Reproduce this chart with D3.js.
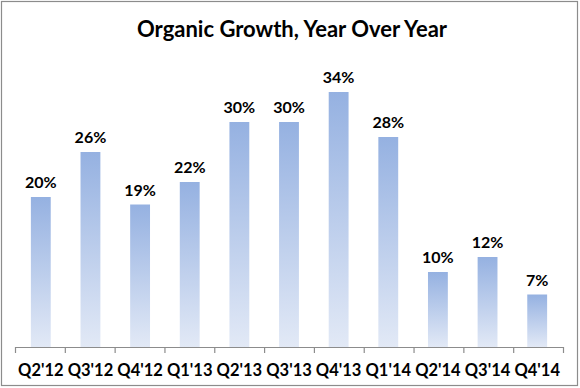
<!DOCTYPE html>
<html>
<head>
<meta charset="utf-8">
<script src="https://cdn.jsdelivr.net/npm/d3@7"></script>
<style>
  body { margin: 0; background: #fff; }
  text { font-family: Lato, "Open Sans", sans-serif; font-weight: bold; fill: #000; }
</style>
</head>
<body>
<div class="canvas"></div>
<script>
// data
const quarters = ["Q2'12", "Q3'12", "Q4'12", "Q1'13", "Q2'13", "Q3'13", "Q4'13", "Q1'14", "Q2'14", "Q3'14", "Q4'14"];
const growth = [20, 26, 19, 22, 30, 30, 34, 28, 10, 12, 7];

const width = 580, height = 388;

const svg = d3.select('.canvas')
    .append('svg')
    .attr('width', width)
    .attr('height', height);

// frame
svg.append('rect')
    .attr('x', 1.5).attr('y', 1.5)
    .attr('width', width - 4).attr('height', height - 4)
    .attr('fill', '#fff')
    .attr('stroke', '#8c8c8c')
    .attr('stroke-width', 1.2);

// gradient for bars
const grad = svg.append('defs').append('linearGradient')
    .attr('id', 'barGrad')
    .attr('x1', 0).attr('y1', 0).attr('x2', 0).attr('y2', 1);
grad.append('stop').attr('offset', '0%').attr('stop-color', '#95b1e1');
grad.append('stop').attr('offset', '100%').attr('stop-color', '#e2e9f6');

// title
svg.append('text')
    .attr('x', 292)
    .attr('y', 37)
    .attr('text-anchor', 'middle')
    .style('font-size', '22px')
    .text('Organic Growth, Year Over Year');

// scales
const x = d3.scaleBand()
    .domain(quarters)
    .range([15, 563])
    .paddingInner(0.6)
    .paddingOuter(0.32);

const y = d3.scaleLinear()
    .domain([0, 40])
    .range([347, 47]);

const edges = d3.scaleLinear()
    .domain([0, quarters.length])
    .range([15, 563]);

// bars
svg.selectAll('rect.bar')
    .data(growth)
    .enter()
    .append('rect')
    .attr('class', 'bar')
    .attr('x', (d, i) => x(quarters[i]))
    .attr('width', x.bandwidth())
    .attr('y', d => y(d))
    .attr('height', d => y(0) - y(d))
    .attr('fill', 'url(#barGrad)');

// value labels
svg.selectAll('text.val')
    .data(growth)
    .enter()
    .append('text')
    .attr('class', 'val')
    .attr('x', (d, i) => x(quarters[i]) + x.bandwidth() / 2)
    .attr('y', d => y(d) - 9)
    .attr('text-anchor', 'middle')
    .style('font-size', '16px')
    .text(d => d + '%');

// axis line + boundary ticks
const tickAxis = d3.axisBottom(edges)
    .tickValues(d3.range(quarters.length + 1))
    .tickSize(6)
    .tickSizeOuter(0)
    .tickFormat('');

const axisG = svg.append('g')
    .attr('transform', `translate(0, ${y(0)})`)
    .call(tickAxis);
axisG.selectAll('path, line').attr('stroke', '#8c8c8c').attr('stroke-width', 1.2);

// category labels
const labelAxis = d3.axisBottom(x).tickSize(0).tickPadding(0);
const labelG = svg.append('g')
    .attr('transform', `translate(0, ${y(0)})`)
    .call(labelAxis);
labelG.select('.domain').remove();
labelG.selectAll('text')
    .attr('y', 29)
    .attr('dy', 0)
    .style('font-size', '16.5px')
    .style('font-family', 'Lato, "Open Sans", sans-serif')
    .attr('fill', '#000');
</script>
</body>
</html>
